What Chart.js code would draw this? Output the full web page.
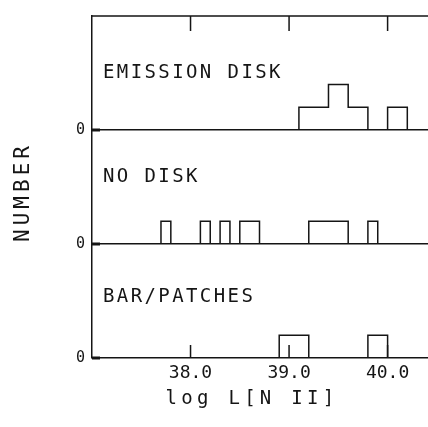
<!DOCTYPE html>
<html>
<head>
<meta charset="utf-8">
<script src="https://cdn.jsdelivr.net/npm/chart.js@4"></script>
<style>
  html, body { margin: 0; padding: 0; background: #fff; overflow: hidden; }
</style>
</head>
<body>
<canvas id="chart" width="428" height="427"></canvas>
<script>
// log L[N II] histograms, three stacked panels
const panelNames = ['EMISSION DISK', 'NO DISK', 'BAR/PATCHES'];
const emissionLo = [39.1, 39.4, 39.6, 40.0];
const emissionHi = [39.4, 39.6, 39.8, 40.2];
const emissionN  = [1, 2, 1, 1];
const noDiskLo = [37.7, 38.1, 38.3, 38.5, 39.2, 39.8];
const noDiskHi = [37.8, 38.2, 38.4, 38.7, 39.6, 39.9];
const noDiskN  = [1, 1, 1, 1, 1, 1];
const barLo = [38.9, 39.8];
const barHi = [39.2, 40.0];
const barN  = [1, 1];
const xTicks = [38.0, 39.0, 40.0];
const xMin = 37.0, xMax = 40.41;
const yMax = 5;

const ink = '#151515';
const mono = '"DejaVu Sans Mono", monospace';

// outline points for a stepped line: up at each bin's left edge, down at its right edge
function steps(lo, hi, n) {
  const pts = [{ x: xMin, y: 0 }];
  lo.forEach((l, i) => {
    pts.push({ x: l, y: n[i] });
    if (hi[i] !== lo[i + 1]) pts.push({ x: hi[i], y: 0 });
  });
  pts.push({ x: xMax, y: 0 });
  return pts;
}

const line = (pts, axis) => ({
  data: pts, yAxisID: axis, stepped: 'before', borderColor: ink, borderWidth: 1.5,
  pointRadius: 0, fill: false
});

const yScale = () => ({
  type: 'linear', position: 'left', stack: 'panels', stackWeight: 1, min: 0, max: yMax,
  afterBuildTicks: s => { s.ticks = [{ value: 0 }]; },
  afterFit: s => { s.width = 92; },
  border: { display: true, color: ink, width: 1.5 },
  grid: { drawTicks: false, color: ink, lineWidth: 1.5 },
  ticks: { color: ink, font: { family: mono, size: 15 }, padding: 7, callback: v => String(v) }
});

const frame = {
  id: 'frame',
  afterDraw(chart) {
    const { ctx, chartArea: a, scales } = chart;
    const x = scales.x;
    ctx.save();
    ctx.strokeStyle = ink;
    ctx.lineWidth = 1.5;
    ctx.beginPath();
    ctx.moveTo(a.left, a.top); ctx.lineTo(a.right, a.top);
    xTicks.forEach(v => {
      const px = x.getPixelForValue(v);
      ctx.moveTo(px, a.top); ctx.lineTo(px, a.top + 15);
      ctx.moveTo(px, a.bottom); ctx.lineTo(px, a.bottom - 13);
    });
    ctx.stroke();
    // heavier zero ticks on the left axis, panel names
    ctx.lineWidth = 3;
    ['yTop', 'yMid', 'yBot'].forEach((id, i) => {
      const py = scales[id].getPixelForValue(0);
      ctx.beginPath(); ctx.moveTo(a.left, py); ctx.lineTo(a.left + 8, py); ctx.stroke();
      ctx.fillStyle = ink;
      ctx.font = '19px ' + mono;
      ctx.letterSpacing = '2.4px';
      ctx.textBaseline = 'alphabetic';
      ctx.textAlign = 'left';
      ctx.fillText(panelNames[i], a.left + 11, py - [52, 62, 56][i]);
    });
    ctx.textAlign = 'center';
    ctx.textBaseline = 'middle';
    ctx.font = '19px ' + mono;
    ctx.letterSpacing = '4.3px';
    ctx.fillText('log L[N II]', 252, 399);
    ctx.font = '21px ' + mono;
    ctx.letterSpacing = '4px';
    ctx.translate(24, 192);
    ctx.rotate(-Math.PI / 2);
    ctx.fillText('NUMBER', 0, 0);
    ctx.restore();
  }
};

new Chart(document.getElementById('chart'), {
  type: 'line',
  data: {
    datasets: [
      line(steps(emissionLo, emissionHi, emissionN), 'yTop'),
      line(steps(noDiskLo, noDiskHi, noDiskN), 'yMid'),
      line(steps(barLo, barHi, barN), 'yBot')
    ]
  },
  options: {
    responsive: false, animation: false,
    layout: { padding: { top: 13, right: 0, left: 0, bottom: 0 } },
    plugins: { legend: { display: false }, tooltip: { enabled: false } },
    scales: {
      x: {
        type: 'linear', min: xMin, max: xMax,
        afterBuildTicks: s => { s.ticks = xTicks.map(v => ({ value: v })); },
        afterFit: s => { s.height = 69; },
        grid: { display: false }, border: { display: false },
        ticks: { color: ink, font: { family: mono, size: 18 }, padding: -3, maxRotation: 0, autoSkip: false,
          callback: v => v.toFixed(1) }
      },
      yBot: yScale(),
      yMid: yScale(),
      yTop: yScale()
    }
  },
  plugins: [frame]
});
</script>
</body>
</html>
